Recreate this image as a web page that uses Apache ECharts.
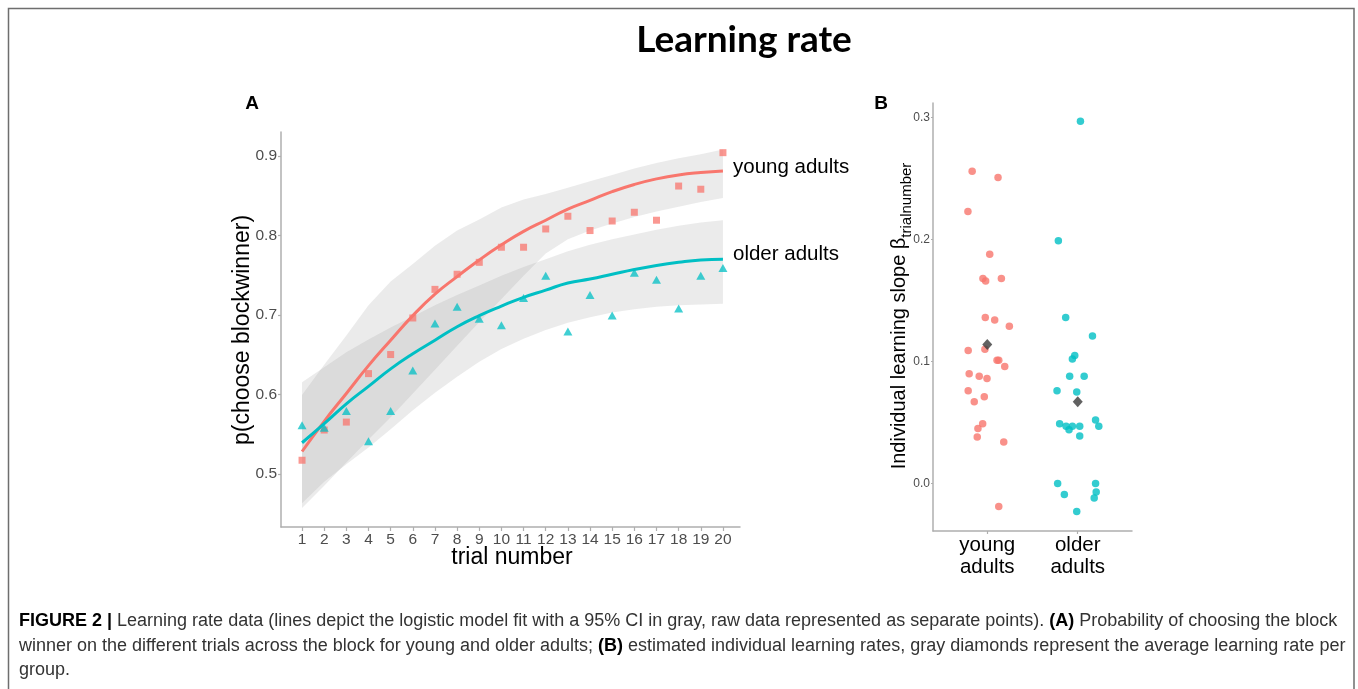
<!DOCTYPE html>
<html>
<head>
<meta charset="utf-8">
<script src="https://cdn.jsdelivr.net/npm/echarts/dist/echarts.min.js"></script>
<style>
  html, body { margin: 0; padding: 0; background: #ffffff; }
  #chart { width: 1358px; height: 689px; }
</style>
</head>
<body>
<div id="chart"></div>
<script>
// ---------------- Panel A data ----------------
const trials = [1, 2, 3, 4, 5, 6, 7, 8, 9, 10, 11, 12, 13, 14, 15, 16, 17, 18, 19, 20];
const youngRaw = [0.517, 0.555, 0.565, 0.626, 0.650, 0.696, 0.732, 0.751, 0.766, 0.785,
                  0.785, 0.808, 0.824, 0.806, 0.818, 0.829, 0.819, 0.862, 0.858, 0.904];
const olderRaw = [0.561, 0.558, 0.579, 0.541, 0.579, 0.630, 0.689, 0.710, 0.695, 0.687,
                  0.721, 0.749, 0.679, 0.725, 0.699, 0.753, 0.744, 0.708, 0.749, 0.759];
const youngFit = [0.528, 0.566, 0.601, 0.636, 0.668, 0.699, 0.726, 0.748, 0.769, 0.788,
                  0.805, 0.819, 0.833, 0.844, 0.855, 0.864, 0.871, 0.876, 0.879, 0.881];
const olderFit = [0.539, 0.563, 0.588, 0.610, 0.632, 0.651, 0.668, 0.685, 0.699, 0.711,
                  0.722, 0.731, 0.740, 0.745, 0.751, 0.757, 0.762, 0.766, 0.769, 0.770];
const youngUpper = [0.599, 0.637, 0.674, 0.712, 0.742, 0.764, 0.787, 0.806, 0.820, 0.835,
                    0.845, 0.852, 0.860, 0.868, 0.876, 0.884, 0.891, 0.897, 0.902, 0.908];
const youngLower = [0.457, 0.485, 0.514, 0.543, 0.571, 0.601, 0.631, 0.661, 0.691, 0.720,
                    0.749, 0.777, 0.795, 0.806, 0.815, 0.823, 0.830, 0.836, 0.842, 0.847];
const olderUpper = [0.615, 0.634, 0.653, 0.669, 0.684, 0.698, 0.712, 0.725, 0.737, 0.749,
                    0.760, 0.770, 0.780, 0.788, 0.795, 0.801, 0.807, 0.812, 0.816, 0.819];
const olderLower = [0.463, 0.490, 0.512, 0.533, 0.556, 0.580, 0.602, 0.622, 0.641, 0.657,
                    0.670, 0.681, 0.690, 0.697, 0.703, 0.707, 0.710, 0.712, 0.713, 0.714];
const xTicksA = [1, 2, 3, 4, 5, 6, 7, 8, 9, 10, 11, 12, 13, 14, 15, 16, 17, 18, 19, 20];
const yTicksA = [0.5, 0.6, 0.7, 0.8, 0.9];
const groupNames = ['young adults', 'older adults'];

// ---------------- Panel B data ----------------
const groupsB = ['young\nadults', 'older\nadults'];
const youngSlopeX = [0.833, 1.119, 0.786, 1.027, 0.952, 0.982, 1.156, 0.978, 1.082, 1.244,
                     0.789, 0.974, 1.108, 1.127, 1.193, 0.800, 0.911, 0.997, 0.789, 0.967,
                     0.856, 0.949, 0.897, 0.889, 1.182, 1.127];
const youngSlope  = [0.256, 0.251, 0.223, 0.188, 0.168, 0.166, 0.168, 0.136, 0.134, 0.129,
                     0.109, 0.110, 0.101, 0.101, 0.096, 0.090, 0.088, 0.086, 0.076, 0.071,
                     0.067, 0.049, 0.045, 0.038, 0.034, -0.019];
const olderSlopeX = [2.030, 1.786, 1.867, 2.163, 1.967, 1.941, 1.911, 2.071, 1.771, 1.989,
                     2.197, 1.800, 1.871, 1.941, 1.904, 2.022, 2.233, 2.022, 1.778, 2.197,
                     2.204, 1.852, 2.182, 1.989];
const olderSlope  = [0.297, 0.199, 0.136, 0.121, 0.105, 0.102, 0.088, 0.088, 0.076, 0.075,
                     0.052, 0.049, 0.047, 0.047, 0.044, 0.047, 0.047, 0.039, 0.000, 0.000,
                     -0.007, -0.009, -0.012, -0.023];
const groupMeans = [0.114, 0.067];
const yTicksB = [0.0, 0.1, 0.2, 0.3];

// ---------------- build ----------------
const RED = '#F8766D', TEAL = '#00BFC4';
const AXIS_GRAY = '#AFAFAF', TICK_TXT = '#4D4D4D';
const FONT = 'Liberation Sans, Arial, sans-serif';

function pairs(xs, ys) { return xs.map((x, i) => [x, ys[i]]); }

function bandSeries(upper, lower) {
  return {
    type: 'custom', xAxisIndex: 0, yAxisIndex: 0, z: 1, silent: true,
    data: [[trials[0], lower[0]]],
    clip: false,
    renderItem: function (params, api) {
      const pts = [];
      for (let i = 0; i < trials.length; i++) pts.push(api.coord([trials[i], upper[i]]));
      for (let i = trials.length - 1; i >= 0; i--) pts.push(api.coord([trials[i], lower[i]]));
      return { type: 'polygon', shape: { points: pts }, style: { fill: 'rgba(153,153,153,0.2)', stroke: null } };
    }
  };
}

const chart = echarts.init(document.getElementById('chart'), null, { renderer: 'canvas' });

const option = {
  backgroundColor: '#ffffff',
  animation: false,
  grid: [
    { left: 281, top: 132, width: 459, height: 395 },
    { left: 933, top: 103, width: 199, height: 428 }
  ],
  xAxis: [
    {
      gridIndex: 0, type: 'value', min: 0.05, max: 20.77,
      axisLine: { show: true, onZero: false, lineStyle: { color: AXIS_GRAY, width: 1.5 } },
      axisTick: { show: true, customValues: xTicksA, length: 4, lineStyle: { color: AXIS_GRAY, width: 1.2 } },
      axisLabel: { customValues: xTicksA, color: TICK_TXT, fontSize: 15.5, fontFamily: FONT, margin: 5 },
      splitLine: { show: false }
    },
    {
      gridIndex: 1, type: 'value', min: 0.4, max: 2.6,
      axisLine: { show: true, onZero: false, lineStyle: { color: AXIS_GRAY, width: 1.5 } },
      axisTick: { show: true, customValues: [1, 2], length: 3, lineStyle: { color: AXIS_GRAY, width: 1.2 } },
      axisLabel: { customValues: [1, 2], formatter: v => groupsB[Math.round(v) - 1], color: '#000', fontSize: 20.5, lineHeight: 22, fontFamily: FONT, margin: 3 },
      splitLine: { show: false }
    }
  ],
  yAxis: [
    {
      gridIndex: 0, type: 'value', min: 0.433, max: 0.930,
      axisLine: { show: true, onZero: false, lineStyle: { color: AXIS_GRAY, width: 1.5 } },
      axisTick: { show: true, customValues: yTicksA, length: 3, lineStyle: { color: AXIS_GRAY, width: 1.2 } },
      axisLabel: { customValues: yTicksA, formatter: v => v.toFixed(1), color: TICK_TXT, fontSize: 15.5, fontFamily: FONT, margin: 4 },
      splitLine: { show: false }
    },
    {
      gridIndex: 1, type: 'value', min: -0.039, max: 0.312,
      axisLine: { show: true, onZero: false, lineStyle: { color: AXIS_GRAY, width: 1.5 } },
      axisTick: { show: true, customValues: yTicksB, length: 2, lineStyle: { color: AXIS_GRAY, width: 1.2 } },
      axisLabel: { customValues: yTicksB, formatter: v => v.toFixed(1), color: TICK_TXT, fontSize: 12, fontFamily: FONT, margin: 3 },
      splitLine: { show: false }
    }
  ],
  series: [
    bandSeries(youngUpper, youngLower),
    bandSeries(olderUpper, olderLower),
    {
      type: 'scatter', xAxisIndex: 0, yAxisIndex: 0, z: 3, symbol: 'rect', symbolSize: 7,
      itemStyle: { color: RED, opacity: 0.75 }, data: pairs(trials, youngRaw), silent: true
    },
    {
      type: 'scatter', xAxisIndex: 0, yAxisIndex: 0, z: 3, symbol: 'triangle', symbolSize: [9, 8],
      itemStyle: { color: TEAL, opacity: 0.75 }, data: pairs(trials, olderRaw), silent: true
    },
    {
      type: 'line', xAxisIndex: 0, yAxisIndex: 0, z: 4, smooth: true, showSymbol: false,
      lineStyle: { color: RED, width: 3 }, data: pairs(trials, youngFit), silent: true
    },
    {
      type: 'line', xAxisIndex: 0, yAxisIndex: 0, z: 4, smooth: true, showSymbol: false,
      lineStyle: { color: TEAL, width: 3 }, data: pairs(trials, olderFit), silent: true
    },
    {
      type: 'scatter', xAxisIndex: 1, yAxisIndex: 1, z: 3, symbol: 'circle', symbolSize: 7.5,
      itemStyle: { color: RED }, data: pairs(youngSlopeX, youngSlope), silent: true
    },
    {
      type: 'scatter', xAxisIndex: 1, yAxisIndex: 1, z: 3, symbol: 'circle', symbolSize: 7.5,
      itemStyle: { color: TEAL }, data: pairs(olderSlopeX, olderSlope), silent: true
    },
    {
      type: 'scatter', xAxisIndex: 1, yAxisIndex: 1, z: 5, symbol: 'diamond', symbolSize: [10, 11],
      itemStyle: { color: '#3A3A3A' }, data: pairs([1, 2], groupMeans), silent: true
    }
  ],
  graphic: [
    { type: 'rect', shape: { x: 8.5, y: 8.5, width: 1345.5, height: 700 }, style: { fill: null, stroke: '#6E6E6E', lineWidth: 1.5 }, silent: true },
    { type: 'text', x: 744, y: 40, style: { text: 'Learning rate', font: 'bold 37px Lato, "Open Sans", sans-serif', fill: '#000', align: 'center', verticalAlign: 'middle' } },
    { type: 'text', x: 252, y: 104, style: { text: 'A', font: 'bold 19px ' + FONT, fill: '#000', align: 'center', verticalAlign: 'middle' } },
    { type: 'text', x: 881, y: 104, style: { text: 'B', font: 'bold 19px ' + FONT, fill: '#000', align: 'center', verticalAlign: 'middle' } },
    { type: 'text', x: 733, y: 167, style: { text: groupNames[0], font: '20.5px ' + FONT, fill: '#000', align: 'left', verticalAlign: 'middle' } },
    { type: 'text', x: 733, y: 254, style: { text: groupNames[1], font: '20.5px ' + FONT, fill: '#000', align: 'left', verticalAlign: 'middle' } },
    { type: 'text', x: 243, y: 330, rotation: Math.PI / 2, style: { text: 'p(choose blockwinner)', font: '23px ' + FONT, fill: '#000', align: 'center', verticalAlign: 'middle' } },
    { type: 'text', x: 512, y: 558, style: { text: 'trial number', font: '23px ' + FONT, fill: '#000', align: 'center', verticalAlign: 'middle' } },
    {
      type: 'text', x: 899, y: 316, rotation: Math.PI / 2,
      style: {
        text: '{m|Individual learning slope β}{s|trialnumber}',
        align: 'center', verticalAlign: 'middle', fill: '#000',
        rich: {
          m: { fontSize: 20, fontFamily: FONT, lineHeight: 30, fill: '#000' },
          s: { fontSize: 15, fontFamily: FONT, lineHeight: 15, verticalAlign: 'bottom', fill: '#000' }
        }
      }
    },
    {
      type: 'text', x: 19, y: 621,
      style: {
        text: '{b|FIGURE 2 |} Learning rate data (lines depict the logistic model fit with a 95% CI in gray, raw data represented as separate points). {b|(A)} Probability of choosing the block',
        fontSize: 18, fontFamily: FONT, fill: '#333', align: 'left', verticalAlign: 'middle',
        rich: { b: { fontWeight: 'bold', fill: '#000', fontSize: 18, fontFamily: FONT } }
      }
    },
    {
      type: 'text', x: 19, y: 646,
      style: {
        text: 'winner on the different trials across the block for young and older adults; {b|(B)} estimated individual learning rates, gray diamonds represent the average learning rate per',
        fontSize: 18, fontFamily: FONT, fill: '#333', align: 'left', verticalAlign: 'middle',
        rich: { b: { fontWeight: 'bold', fill: '#000', fontSize: 18, fontFamily: FONT } }
      }
    },
    {
      type: 'text', x: 19, y: 670,
      style: { text: 'group.', fontSize: 18, fontFamily: FONT, fill: '#333', align: 'left', verticalAlign: 'middle' }
    }
  ]
};
chart.setOption(option);
</script>
</body>
</html>
